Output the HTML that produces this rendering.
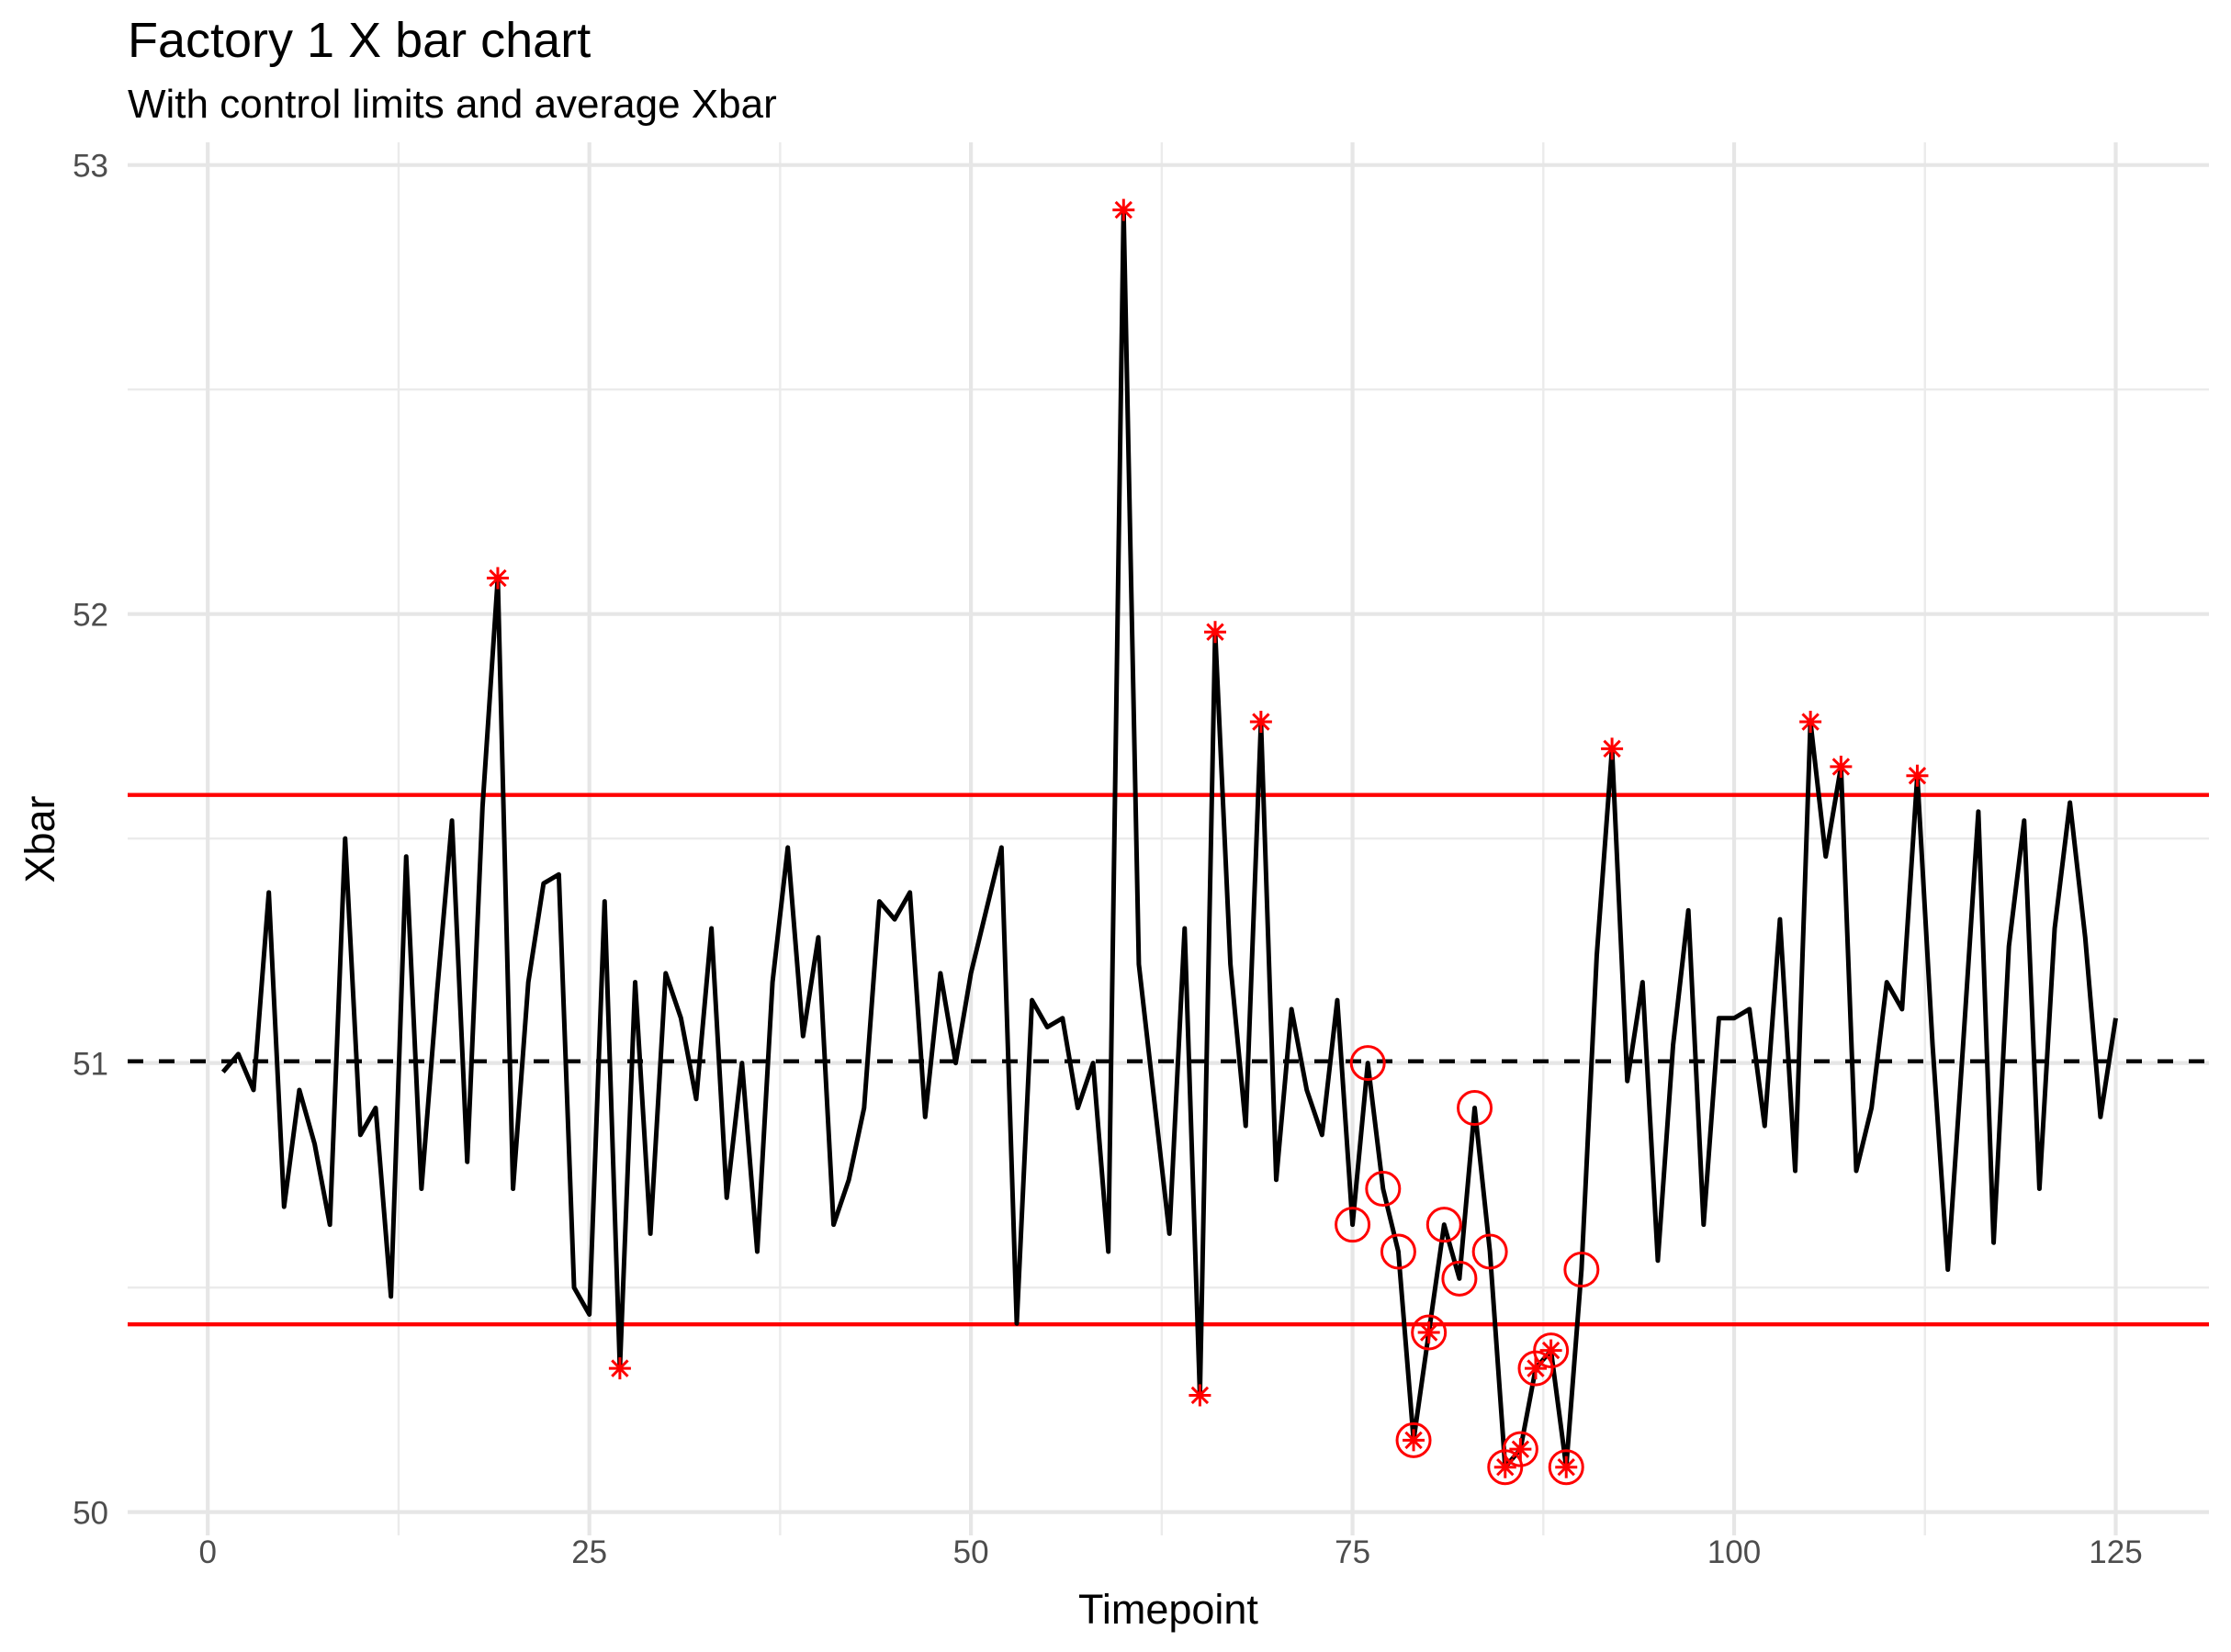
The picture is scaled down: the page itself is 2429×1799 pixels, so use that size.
<!DOCTYPE html>
<html><head><meta charset="utf-8"><style>
html,body{margin:0;padding:0;background:#fff}
svg{display:block}
text{font-family:"Liberation Sans",Arial,sans-serif}
</style></head><body>
<svg id="chart" width="2429" height="1799" viewBox="0 0 2429 1799" xmlns="http://www.w3.org/2000/svg">
<rect width="2429" height="1799" fill="#fff"/>
<text x="139" y="62" font-size="54" fill="#000">Factory 1 X bar chart</text>
<text x="139" y="128" font-size="44" fill="#000">With control limits and average Xbar</text>
<g id="grid"></g>
<g id="axes"></g>
<g id="marks"></g>
<text x="1272" y="1768" font-size="45" text-anchor="middle" fill="#000">Timepoint</text>
<text transform="translate(59,914) rotate(-90)" font-size="45" text-anchor="middle" fill="#000">Xbar</text>
</svg>
<script>
const xbar = [50.98,51.02,50.94,51.38,50.68,50.94,50.82,50.64,51.50,50.84,50.90,50.48,51.46,50.72,51.15,51.54,50.78,51.57,52.08,50.72,51.18,51.40,51.42,50.50,50.44,51.36,50.32,51.18,50.62,51.20,51.10,50.92,51.30,50.70,51.00,50.58,51.18,51.48,51.06,51.28,50.64,50.74,50.90,51.36,51.32,51.38,50.88,51.20,51.00,51.20,51.34,51.48,50.42,51.14,51.08,51.10,50.90,51.00,50.58,52.90,51.22,50.92,50.62,51.30,50.26,51.96,51.22,50.86,51.76,50.74,51.12,50.94,50.84,51.14,50.64,51.00,50.72,50.58,50.16,50.40,50.64,50.52,50.90,50.58,50.10,50.14,50.32,50.36,50.10,50.54,51.24,51.70,50.96,51.18,50.56,51.04,51.34,50.64,51.10,51.10,51.12,50.86,51.32,50.76,51.76,51.46,51.66,50.76,50.90,51.18,51.12,51.64,51.04,50.54,51.04,51.56,50.60,51.26,51.54,50.72,51.30,51.58,51.28,50.88,51.10];
const ucl = 51.597;
const lcl = 50.418;
const mean = 51.004;
const runPoints = [75,76,77,78,79,80,81,82,83,84,85,86,87,88,89,90];
const xTicks = [0,25,50,75,100,125];
const xTickLabels = ["0","25","50","75","100","125"];
const yTicks = [50,51,52,53];
const yTickLabels = ["50","51","52","53"];

const NS="http://www.w3.org/2000/svg";
const X0=226.2, XS=(2303.5-226.2)/125;
const Y0=1646.6, YS=(1646.6-179.7)/3;
const sx=v=>X0+v*XS, sy=v=>Y0-(v-50)*YS;
const PL=139, PR=2405, PT=155, PB=1672;
function mk(tag,attrs,parent){const e=document.createElementNS(NS,tag);for(const k in attrs)e.setAttribute(k,attrs[k]);parent.appendChild(e);return e;}
const grid=document.getElementById('grid'), axes=document.getElementById('axes'), marks=document.getElementById('marks');
for(let i=0;i<yTicks.length-1;i++){const v=(yTicks[i]+yTicks[i+1])/2;
 const l=mk('line',{x1:PL,x2:PR,y1:sy(v),y2:sy(v),stroke:'#ebebeb','stroke-width':2.4},grid);
 
 }
for(let i=0;i<xTicks.length-1;i++){const v=(xTicks[i]+xTicks[i+1])/2;
 const l=mk('line',{x1:sx(v),x2:sx(v),y1:PT,y2:PB,stroke:'#ebebeb','stroke-width':2.4},grid);
 
 }
yTicks.forEach((v,i)=>{
 const l=mk('line',{x1:PL,x2:PR,y1:sy(v),y2:sy(v),stroke:'#e6e6e6','stroke-width':4.2},grid);
 
 
 const t=mk('text',{x:118,y:sy(v)+13,'font-size':35,'text-anchor':'end',fill:'#4d4d4d'},axes);
 t.textContent=yTickLabels[i];
 
 
});
xTicks.forEach((v,i)=>{
 const l=mk('line',{x1:sx(v),x2:sx(v),y1:PT,y2:PB,stroke:'#e6e6e6','stroke-width':4.2},grid);
 
 
 const t=mk('text',{x:sx(v),y:1702,'font-size':35,'text-anchor':'middle',fill:'#4d4d4d'},axes);
 t.textContent=xTickLabels[i];
 
 
});
const u=mk('line',{x1:PL,x2:PR,y1:sy(ucl),y2:sy(ucl),stroke:'#ff0000','stroke-width':4.4},marks);


const lo=mk('line',{x1:PL,x2:PR,y1:sy(lcl),y2:sy(lcl),stroke:'#ff0000','stroke-width':4.4},marks);


const m=mk('line',{x1:PL,x2:PR,y1:sy(mean),y2:sy(mean),stroke:'#000','stroke-width':4.4,'stroke-dasharray':'17 17'},marks);


const pts=xbar.map((v,i)=>sx(i+1).toFixed(2)+','+sy(v).toFixed(2)).join(' ');
const pl=mk('polyline',{points:pts,fill:'none',stroke:'#000','stroke-width':5,'stroke-linejoin':'round'},marks);


xbar.forEach((v,i)=>{
 if(v>ucl||v<lcl){const cx=sx(i+1),cy=sy(v),r=12;
  const g=mk('g',{stroke:'#ff0000','stroke-width':3},marks);
  
  
  mk('line',{x1:cx-r,x2:cx+r,y1:cy,y2:cy},g);
  mk('line',{x1:cx,x2:cx,y1:cy-r,y2:cy+r},g);
  const d=r*0.72;
  mk('line',{x1:cx-d,x2:cx+d,y1:cy-d,y2:cy+d},g);
  mk('line',{x1:cx-d,x2:cx+d,y1:cy+d,y2:cy-d},g);
 }
});
runPoints.forEach(t=>{
 const c=mk('circle',{cx:sx(t),cy:sy(xbar[t-1]),r:18,fill:'none',stroke:'#ff0000','stroke-width':3},marks);
 
 
});
</script>
</body></html>
